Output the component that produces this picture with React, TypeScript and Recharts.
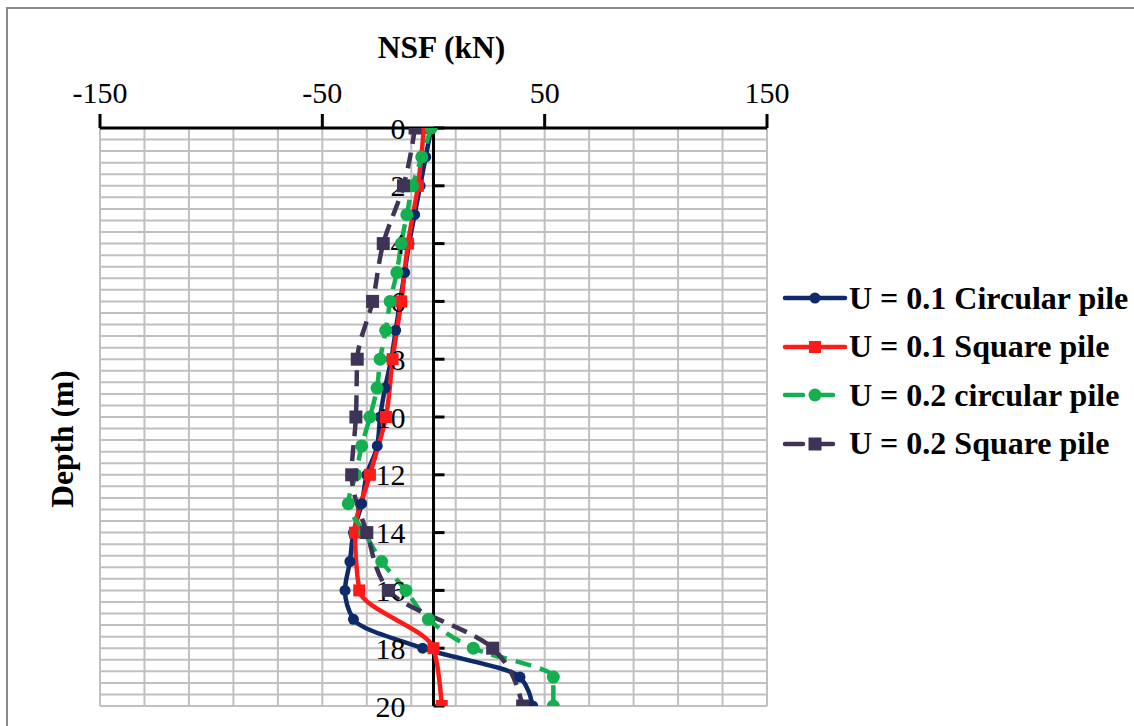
import React from 'react';
import {
  LineChart,
  Line,
  XAxis,
  YAxis,
  CartesianGrid,
  ReferenceLine,
  ReferenceDot,
} from 'recharts';

// ---- data ----
const depthsAll = [0, 1, 2, 3, 4, 5, 6, 7, 8, 9, 10, 11, 12, 13, 14, 15, 16, 17, 18, 19, 20];
const depthsEven = [0, 2, 4, 6, 8, 10, 12, 14, 16, 18, 20];

const u01Circular = [-1, -3.5, -6, -8.5, -11, -13, -15, -17, -19, -21.8, -24, -25.3, -30, -32.3, -36, -37.6, -39.8, -36, -4.9, 38.9, 44.6];
const u01Square = [-4.3, -7, -11.5, -14.5, -18.4, -21.4, -28.6, -35.3, -33.4, 0, 3.7];
const u02Circular = [-1, -5.3, -9.4, -12, -14.5, -16.5, -19.5, -21.5, -24, -25.4, -28.6, -32.3, -35, -38.3, -31, -23.3, -12.4, -2.3, 17.9, 53.9, 53.9];
const u02Square = [-8.3, -13.5, -22.6, -27.4, -34.3, -34.9, -36.8, -30, -20.3, 26.6, 40.1];

const xTicks = [-150, -50, 50, 150];
const yTickLabels = [0, 2, 4, 6, 8, 10, 12, 14, 16, 18, 20];
const gridX = [-150, -130, -110, -90, -70, -50, -30, -10, 10, 30, 50, 70, 90, 110, 130, 150];
const gridY = [
  0, 0.4, 0.8, 1.2, 1.6, 2, 2.4, 2.8, 3.2, 3.6, 4, 4.4, 4.8, 5.2, 5.6, 6, 6.4, 6.8, 7.2, 7.6, 8,
  8.4, 8.8, 9.2, 9.6, 10, 10.4, 10.8, 11.2, 11.6, 12, 12.4, 12.8, 13.2, 13.6, 14, 14.4, 14.8, 15.2,
  15.6, 16, 16.4, 16.8, 17.2, 17.6, 18, 18.4, 18.8, 19.2, 19.6, 20,
];

const tableData = depthsAll.map((d, i) => {
  const j = depthsEven.indexOf(d);
  return {
    depth: d,
    c01: u01Circular[i],
    s01: j >= 0 ? u01Square[j] : null,
    c02: u02Circular[i],
    s02: j >= 0 ? u02Square[j] : null,
  };
});

const FONT = '"Liberation Serif", "Times New Roman", serif';

type SeriesCfg = {
  key: string;
  name: string;
  color: string;
  dash?: string;
  marker: 'circle' | 'square';
  size: number;
};

const series: SeriesCfg[] = [
  { key: 'c01', name: 'U = 0.1 Circular pile', color: '#0d2a6b', marker: 'circle', size: 5.5 },
  { key: 's01', name: 'U = 0.1 Square pile', color: '#ff1a1a', marker: 'square', size: 12 },
  { key: 'c02', name: 'U = 0.2 circular pile', color: '#12b04f', dash: '16 9', marker: 'circle', size: 6.5 },
  { key: 's02', name: 'U = 0.2 Square pile', color: '#3f3457', dash: '16 9', marker: 'square', size: 13 },
];

const makeDot = (cfg: SeriesCfg) => (props: any) => {
  const { cx, cy, key, value } = props;
  if (cx == null || cy == null || value == null || Number.isNaN(cx) || Number.isNaN(cy)) {
    return <g key={key} />;
  }
  if (cfg.marker === 'circle') {
    return <circle key={key} cx={cx} cy={cy} r={cfg.size} fill={cfg.color} stroke="none" />;
  }
  const h = cfg.size / 2;
  return <rect key={key} x={cx - h} y={cy - h} width={cfg.size} height={cfg.size} fill={cfg.color} />;
};

const YTickShape = (props: any) => {
  const { cx, cy, label } = props;
  return (
    <g>
      <line x1={cx} y1={cy} x2={cx + 11} y2={cy} stroke="#000" strokeWidth={3} />
      <text
        x={cx - 28}
        y={cy}
        textAnchor="end"
        dominantBaseline="central"
        fontFamily={FONT}
        fontSize={30}
        fill="#000"
      >
        {label}
      </text>
    </g>
  );
};

const EmptyTick = () => <g />;

const LegendBox = () => (
  <div style={{ position: 'absolute', left: 782, top: 274, fontFamily: FONT }}>
    {series.map((s) => (
      <div key={s.key} style={{ display: 'flex', alignItems: 'center', height: 48.5 }}>
        <svg width={66} height={20} style={{ flex: 'none' }}>
          <line x1={3} y1={10} x2={63} y2={10} stroke={s.color} strokeWidth={4.5} strokeDasharray={s.dash ? '18 12' : undefined} strokeLinecap="round" />
          {s.marker === 'circle' ? (
            <circle cx={33} cy={10} r={s.size} fill={s.color} />
          ) : (
            <rect x={33 - s.size / 2} y={10 - s.size / 2} width={s.size} height={s.size} fill={s.color} />
          )}
        </svg>
        <span style={{ fontWeight: 'bold', fontSize: 32, color: '#000', whiteSpace: 'nowrap', marginLeft: 1 }}>
          {s.name}
        </span>
      </div>
    ))}
  </div>
);

export default function App() {
  return (
    <div
      style={{
        position: 'absolute',
        left: 0,
        top: 0,
        width: 1134,
        height: 726,
        overflow: 'hidden',
        background: '#fff',
      }}
    >
      <div
        style={{
          position: 'absolute',
          left: 6,
          top: 7,
          width: 1200,
          height: 800,
          border: '2px solid #8a8a8a',
          boxSizing: 'border-box',
        }}
      />
      <div style={{ position: 'absolute', left: 0, top: 0 }}>
        <LineChart
          width={1134}
          height={726}
          data={tableData}
          layout="vertical"
          margin={{ top: 30, right: 367, bottom: 20, left: 30 }}
        >
          <CartesianGrid
            verticalValues={gridX}
            horizontalValues={gridY}
            stroke="#c0c0c0"
            strokeWidth={2}
          />
          <XAxis
            type="number"
            orientation="top"
            domain={[-150, 150]}
            ticks={xTicks}
            interval={0}
            allowDataOverflow
            height={98}
            axisLine={{ stroke: '#000', strokeWidth: 3 }}
            tickLine={{ stroke: '#000', strokeWidth: 3 }}
            tickSize={14}
            tickMargin={11}
            tick={{ fontFamily: FONT, fontSize: 30, fill: '#000' }}
            label={{
              content: (p: any) => {
                const vb = p.viewBox || {};
                return (
                  <text
                    x={vb.x + vb.width / 2 + 8}
                    y={58}
                    textAnchor="middle"
                    fontFamily={FONT}
                    fontWeight="bold"
                    fontSize={31.5}
                    fill="#000"
                  >
                    NSF (kN)
                  </text>
                );
              },
            }}
          />
          <YAxis
            type="number"
            dataKey="depth"
            domain={[0, 20]}
            ticks={gridY}
            interval={0}
            allowDataOverflow
            width={70}
            tick={EmptyTick}
            tickLine={false}
            axisLine={false}
            label={{
              content: (p: any) => {
                const vb = p.viewBox || {};
                const cx = 62;
                const cy = vb.y + vb.height / 2 + 22;
                return (
                  <text
                    x={cx}
                    y={cy}
                    transform={`rotate(-90 ${cx} ${cy})`}
                    textAnchor="middle"
                    dominantBaseline="central"
                    fontFamily={FONT}
                    fontWeight="bold"
                    fontSize={31.5}
                    fill="#000"
                  >
                    Depth (m)
                  </text>
                );
              },
            }}
          />
          <ReferenceLine x={0} stroke="#000" strokeWidth={3} />
          {yTickLabels.map((d) => (
            <ReferenceDot
              key={`yt${d}`}
              x={0}
              y={d}
              r={0}
              ifOverflow="visible"
              shape={(p: any) => <YTickShape {...p} label={d} />}
            />
          ))}
          {series.map((s) => (
            <Line
              key={s.key}
              dataKey={s.key}
              name={s.name}
              type="monotone"
              stroke={s.color}
              strokeWidth={4.5}
              strokeDasharray={s.dash}
              dot={makeDot(s)}
              activeDot={false}
              connectNulls
              isAnimationActive={false}
            />
          ))}
        </LineChart>
      </div>
      <LegendBox />
    </div>
  );
}
